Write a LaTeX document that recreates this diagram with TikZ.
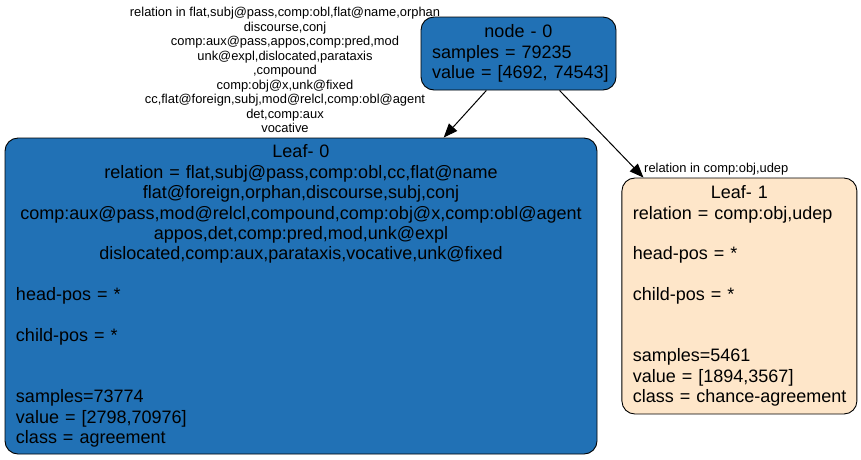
\documentclass[tikz,border=0pt]{standalone}
\usepackage{fontspec}
\setmainfont{Liberation Sans}
\usetikzlibrary{
    arrows.meta,
    positioning
}

\definecolor{splitblue}{RGB}{33,113,181}
\definecolor{leafpeach}{RGB}{254,230,201}

% one left-aligned line inside a centred node
\newcommand{\lft}[1]{\makebox[\hsize][l]{#1}}

\begin{document}
\begin{tikzpicture}[
        x=1pt, y=-1pt,
        tree/.style={rectangle, rounded corners=13pt, draw=black, line width=0.9pt,
                     align=center, inner xsep=11pt, inner ysep=0pt,
                     font=\fontsize{18}{20.4}\selectfont},
        split/.style={tree, fill=splitblue},
        leaf/.style={tree, fill=leafpeach},
        elabel/.style={font=\fontsize{12.9}{14.5}\selectfont, align=center, inner sep=0pt},
        edge/.style={-{Triangle[length=14pt, width=11pt]}, line width=1pt, draw=black},
    ]

    \useasboundingbox (0,0) rectangle (861,459);

    % Nodes
    \node[split, text width=173pt, minimum height=73pt] (n0) at (518.5,53.5)
        {node - 0\\ \lft{samples = 79235}\\ \lft{value = [4692, 74543]}};

    \node[split, text width=570pt, minimum height=316pt] (leaf0) at (301,296)
        {Leaf- 0\\
         relation = flat,subj@pass,comp:obl,cc,flat@name\\
         flat@foreign,orphan,discourse,subj,conj\\
         comp:aux@pass,mod@relcl,compound,comp:obj@x,comp:obl@agent\\
         appos,det,comp:pred,mod,unk@expl\\
         dislocated,comp:aux,parataxis,vocative,unk@fixed\\
         \mbox{}\\
         \lft{head-pos = *}\\
         \mbox{}\\
         \lft{child-pos = *}\\
         \mbox{}\\
         \mbox{}\\
         \lft{samples=73774}\\
         \lft{value = [2798,70976]}\\
         \lft{class = agreement}};

    \node[leaf, text width=213pt, minimum height=236pt, right=24pt of leaf0] (leaf1)
        {Leaf- 1\\
         \lft{relation = comp:obj,udep}\\
         \mbox{}\\
         \lft{head-pos = *}\\
         \mbox{}\\
         \lft{child-pos = *}\\
         \mbox{}\\
         \mbox{}\\
         \lft{samples=5461}\\
         \lft{value = [1894,3567]}\\
         \lft{class = chance-agreement}};

    % Edge labels
    \node[elabel] (lab0) at (285,70)
        {relation in flat,subj@pass,comp:obl,flat@name,orphan\\
         discourse,conj\\
         comp:aux@pass,appos,comp:pred,mod\\
         unk@expl,dislocated,parataxis\\
         ,compound\\
         comp:obj@x,unk@fixed\\
         cc,flat@foreign,subj,mod@relcl,comp:obl@agent\\
         det,comp:aux\\
         vocative};
    \node[elabel, anchor=west] (lab1) at (644,169) {relation in comp:obj,udep};

    % Arrows
    \draw[edge] (n0.229.2) -- (leaf0.48.1);
    \draw[edge] (n0.318.7) -- (leaf1.129.4);

\end{tikzpicture}
\end{document}
